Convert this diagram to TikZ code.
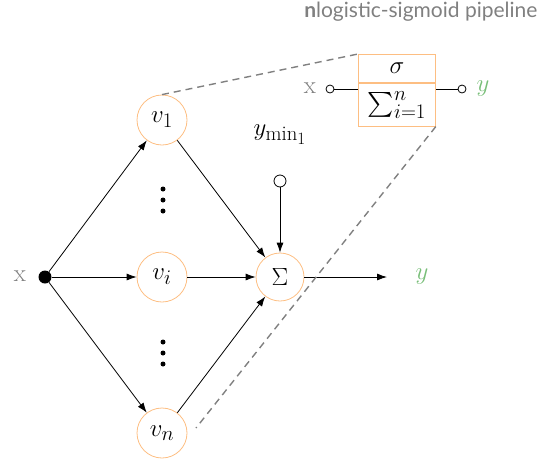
\documentclass[tikz,border=0pt]{standalone}
\usepackage{amsmath}
\usepackage{exscale}
\usepackage{fontspec}
\newfontfamily\titlefont{Lato}
\usetikzlibrary{arrows.meta}
\definecolor{orng}{RGB}{253,190,130}
\definecolor{grn}{RGB}{120,190,120}
\definecolor{gry}{RGB}{128,128,128}
\newcommand\hugefont{\fontsize{24.88}{30}\selectfont}
\begin{document}
\begin{tikzpicture}[x=1pt,y=-1pt,
  every node/.style={font=\hugefont},
  neuron/.style={circle,draw=orng,line width=0.8pt,minimum size=50pt,inner sep=0pt},
  pin/.style={circle,draw=black,fill=white,line width=0.8pt,minimum size=11pt,inner sep=0pt},
  conn/.style={line width=0.8pt,-{Latex[length=10pt,width=7pt]}},
  plain/.style={line width=0.8pt},
  dotmark/.style={circle,fill=black,minimum size=5pt,inner sep=0pt},
  dashline/.style={gry,line width=1.4pt,dash pattern=on 7pt off 5pt},
  boxpart/.style={draw=orng,line width=0.8pt,minimum width=77pt,inner sep=0pt,anchor=north west}]
\useasboundingbox (0,0) rectangle (546,464);
\node[font=\fontsize{21}{25}\selectfont\titlefont,text=gry,anchor=east] (title) at (541,12) {\textbf{n}logistic-sigmoid pipeline};
\node[circle,fill=black,minimum size=13pt,inner sep=0pt] (dot) at (45,277) {};
\node[text=gry] (xin) at (20,276) {x};
\node[neuron] (v1) at (162,120) {$v_1$};
\node[neuron] (vi) at (162,277) {$v_i$};
\node[neuron] (vn) at (162,433) {$v_n$};
\node[dotmark] (da1) at (163,189) {};
\node[dotmark] (da2) at (163,200) {};
\node[dotmark] (da3) at (163,211) {};
\node[dotmark] (db1) at (163,342) {};
\node[dotmark] (db2) at (163,353) {};
\node[dotmark] (db3) at (163,364) {};
\node[neuron,minimum size=48pt] (sum) at (280,277) {$\Sigma$};
\node[pin,minimum size=12pt] (bias) at (280,181) {};
\node (ymin) at (280,135) {$y_{\min_1}$};
\coordinate (outend) at (387,277);
\node[text=grn] (yout) at (422,277) {$y$};
\draw[conn] (dot) -- (v1);
\draw[conn] (dot) -- (vi);
\draw[conn] (dot) -- (vn);
\draw[conn] (v1) -- (sum);
\draw[conn] (vi) -- (sum);
\draw[conn] (vn) -- (sum);
\draw[conn] (bias) -- (sum);
\draw[conn] (sum) -- (outend);
% box
\node[boxpart,minimum height=28pt] (sig) at (358,54) {$\sigma$};
\node[boxpart,minimum height=43pt] (sumb) at (sig.south west) {$\sum_{i=1}^{n}$};
\node[pin,minimum size=8pt] (pinl) at (330,89) {};
\node[pin,minimum size=8pt] (pinr) at (462,89) {};
\node[text=gry] (xb) at (310,88) {x};
\node[text=grn] (yb) at (483,89) {$y$};
\draw[plain] (pinl) -- (pinl -| sig.west);
\draw[plain] (pinr) -- (pinr -| sig.east);
\coordinate (dashend) at (196,428);
\draw[dashline] (v1.north) -- (sig.north west);
\draw[dashline] (sumb.south east) -- (dashend);
\end{tikzpicture}
\end{document}
